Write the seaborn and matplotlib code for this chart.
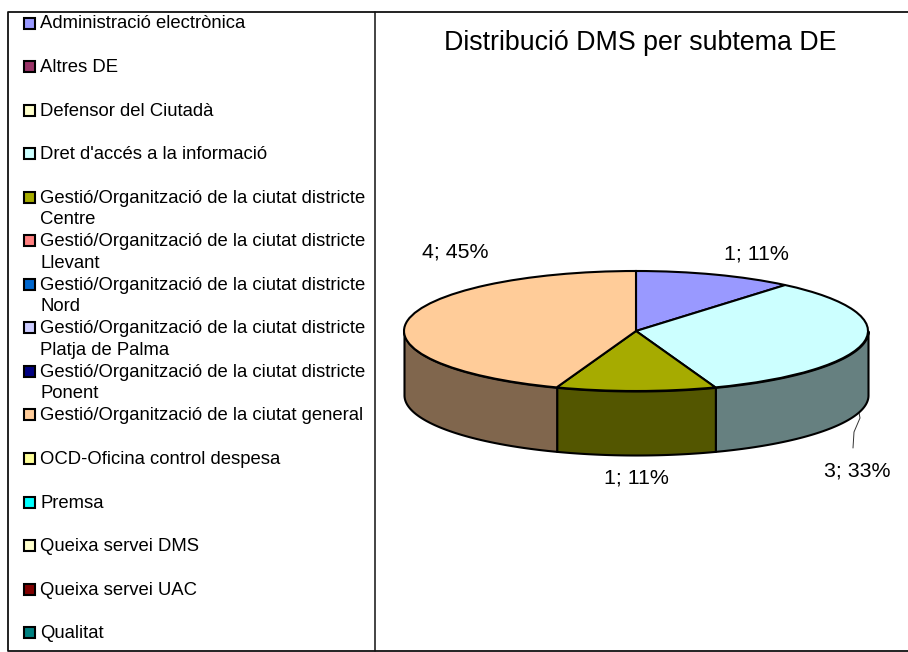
import matplotlib
matplotlib.use("Agg")
import matplotlib.pyplot as plt
from matplotlib.patches import Rectangle
import numpy as np
import seaborn as sns

categories = [
    "Administració electrònica", "Altres DE", "Defensor del Ciutadà",
    "Dret d'accés a la informació",
    "Gestió/Organització de la ciutat districte\nCentre",
    "Gestió/Organització de la ciutat districte\nLlevant",
    "Gestió/Organització de la ciutat districte\nNord",
    "Gestió/Organització de la ciutat districte\nPlatja de Palma",
    "Gestió/Organització de la ciutat districte\nPonent",
    "Gestió/Organització de la ciutat general",
    "OCD-Oficina control despesa", "Premsa", "Queixa servei DMS",
    "Queixa servei UAC", "Qualitat",
]
values = [1, 0, 0, 3, 1, 0, 0, 0, 0, 4, 0, 0, 0, 0, 0]
colors = ["#9999FF", "#993366", "#FFFFCC", "#CCFFFF", "#A6AB00", "#FF8080", "#0066CC", "#CCCCFF",
          "#000080", "#FFCC99", "#FFFF99", "#00FFFF", "#FFFFCC", "#800000", "#008080"]
# labels as printed on the chart (the 45% is what the original shows)
slice_labels = ["1; 11%", "3; 33%", "1; 11%", "4; 45%"]
title = "Distribució DMS per subtema DE"

sns.set_theme(style="white")
plt.rcParams["font.family"] = ["Liberation Sans", "DejaVu Sans"]

W, H = 908, 652
fig = plt.figure(figsize=(W / 100, H / 100), dpi=100)

# background axes in pixel coordinates for the frame, legend and text
bg = fig.add_axes([0, 0, 1, 1])
bg.set_xlim(0, W)
bg.set_ylim(H, 0)
bg.axis("off")
bg.plot([W, 8, 8, W], [12, 12, 651, 651], color="#111111", lw=1.3, clip_on=False)
bg.plot([375, 375], [12, 651], color="#111111", lw=1.1)

for i, (cat, col) in enumerate(zip(categories, colors)):
    y = 23 + 43.55 * i
    bg.add_patch(Rectangle((23.7, y - 5.5), 11, 11, facecolor=col, edgecolor="black", lw=1.5))
    bg.text(40, y - 7.5, cat, fontsize=13.3, va="top", ha="left", color="black", linespacing=1.33)

bg.text(640, 43, title, fontsize=19.3, ha="center", va="center", color="black")
bg.plot([858, 860, 854, 853], [407, 418, 432, 448], color="#333333", lw=0.7)
for lab, (lx, ly) in zip(slice_labels, [(756, 254), (857, 471), (636, 478), (455, 252)]):
    bg.text(lx, ly, lab, fontsize=15.4, ha="center", va="center", color="black")

# pie axes: unit circle squashed into an ellipse by the axis limits
cx, cy, rx, ry, depth_px = 636, 331, 232, 60, 64
ax = fig.add_axes([0, 0, 1, 1])
vals = [v for v in values if v > 0]
cols = [c for c, v in zip(colors, values) if v > 0]
ax.pie(vals, colors=cols, startangle=90, counterclock=False, radius=1,
       wedgeprops=dict(edgecolor="black", linewidth=1.5))
ax.set_aspect("auto")
ax.set_xlim((0 - cx) / rx, (W - cx) / rx)
ax.set_ylim((cy - H) / ry, cy / ry)
ax.patch.set_visible(False)

# side wall of the slices, only on the front half
depth = depth_px / ry
start = 0.0
for v, c in zip(vals, cols):
    end = start + 360.0 * v / sum(vals)
    a, b = max(start, 90), min(end, 270)
    if b > a:
        t = np.radians(np.linspace(a, b, 80))
        shade = tuple(0.5 * x for x in matplotlib.colors.to_rgb(c))
        ax.fill_between(np.sin(t), np.cos(t), np.cos(t) - depth, color=shade,
                        edgecolor="black", linewidth=1.5, zorder=0.5)
    start = end

fig.savefig("out.png", dpi=100)
